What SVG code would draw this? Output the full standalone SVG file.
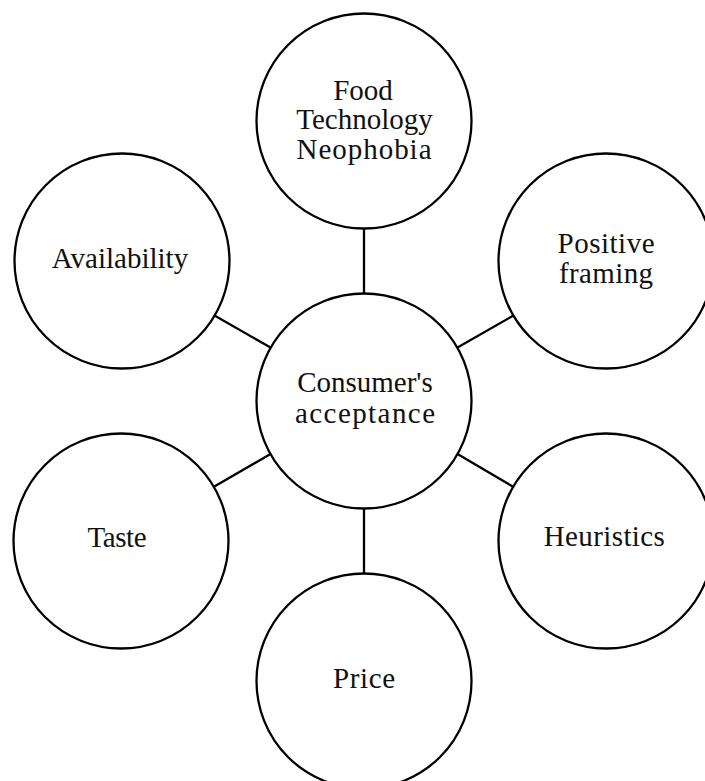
<svg xmlns="http://www.w3.org/2000/svg" width="705" height="781" viewBox="0 0 705 781">
  <style>
    .node circle { fill: #ffffff; stroke: #000000; stroke-width: 2.3; }
    .node text { font-family: "Liberation Serif", "Times New Roman", serif; font-size: 29px; fill: #111111; text-anchor: middle; }
    #connectors line { stroke: #000000; stroke-width: 2.3; }
  </style>
  <rect width="705" height="781" fill="#ffffff"/>

  <!-- spokes from the hub to each factor -->
  <g id="connectors">
    <line x1="364" y1="228.5" x2="364" y2="293.5"/>
    <line x1="364" y1="508.5" x2="364" y2="573.5"/>
    <line x1="214.5" y1="315.5" x2="270.5" y2="347.5"/>
    <line x1="213.5" y1="487" x2="270.5" y2="454"/>
    <line x1="457.5" y1="347.5" x2="513.5" y2="315.5"/>
    <line x1="457.5" y1="454" x2="513.5" y2="487"/>
  </g>

  <g id="hub" class="node">
    <circle cx="364" cy="401" r="107.5"/>
    <text x="365" y="392">Consumer's</text>
    <text x="365" y="423" textLength="140" lengthAdjust="spacing">acceptance</text>
  </g>

  <g id="neophobia" class="node">
    <circle cx="364" cy="121" r="107.5"/>
    <text x="363" y="100">Food</text>
    <text x="364.5" y="129">Technology</text>
    <text x="364" y="158.5" textLength="135" lengthAdjust="spacing">Neophobia</text>
  </g>

  <g id="positive-framing" class="node">
    <circle cx="606" cy="261" r="107.5"/>
    <text x="606" y="253" textLength="97" lengthAdjust="spacing">Positive</text>
    <text x="606" y="283" textLength="94" lengthAdjust="spacing">framing</text>
  </g>

  <g id="heuristics" class="node">
    <circle cx="606" cy="541" r="107.5"/>
    <text x="604.3" y="546" textLength="121" lengthAdjust="spacing">Heuristics</text>
  </g>

  <g id="price" class="node">
    <circle cx="364" cy="681" r="107.5"/>
    <text x="364" y="688" textLength="62" lengthAdjust="spacing">Price</text>
  </g>

  <g id="taste" class="node">
    <circle cx="121" cy="541" r="107.5"/>
    <text x="117" y="547" textLength="59" lengthAdjust="spacing">Taste</text>
  </g>

  <g id="availability" class="node">
    <circle cx="122" cy="261" r="107.5"/>
    <text x="120" y="268">Availability</text>
  </g>
</svg>
